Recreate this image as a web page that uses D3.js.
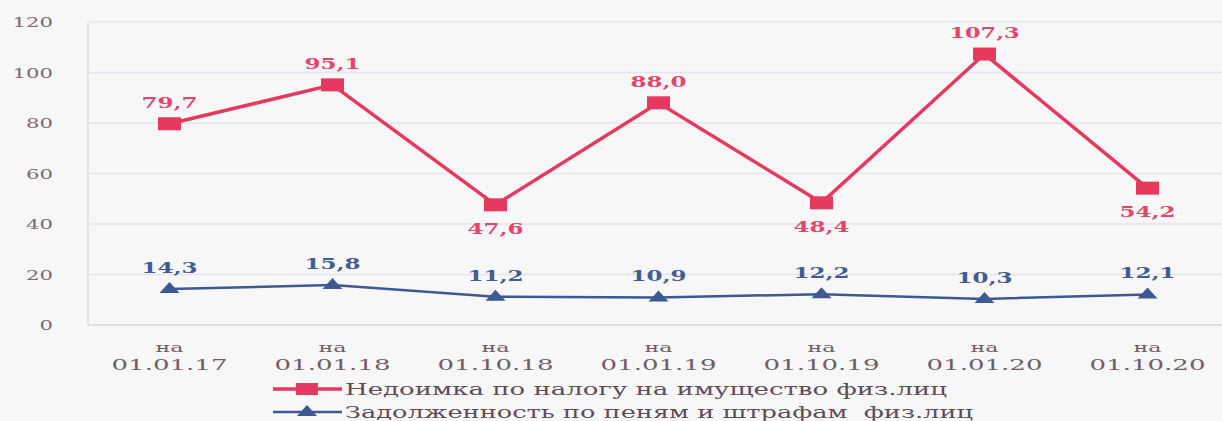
<!DOCTYPE html>
<html>
<head>
<meta charset="utf-8">
<script src="https://cdn.jsdelivr.net/npm/d3@7"></script>
<style>
  body { margin: 0; background: #f7f7f7; }
  text { font-family: "DejaVu Serif", "Liberation Serif", serif; white-space: pre; }
</style>
</head>
<body>
<div id="viz"></div>
<script>
var categories = ["01.01.17", "01.01.18", "01.10.18", "01.01.19", "01.10.19", "01.01.20", "01.10.20"];
var nedoimka = [79.7, 95.1, 47.6, 88.0, 48.4, 107.3, 54.2];
var penya = [14.3, 15.8, 11.2, 10.9, 12.2, 10.3, 12.1];
var nedoimkaPos = ["top", "top", "bottom", "top", "bottom", "top", "bottom"];
var yTicks = [0, 20, 40, 60, 80, 100, 120];
var seriesNames = ["Недоимка по налогу на имущество физ.лиц", "Задолженность по пеням и штрафам  физ.лиц"];

var width = 1222, height = 421;
var red = "#e5395f", blue = "#3d5893";

var svg = d3.select("#viz").append("svg").attr("width", width).attr("height", height);
svg.append("rect").attr("width", width).attr("height", height).attr("fill", "#f7f7f7");

var x = d3.scaleBand().domain(categories).range([88, 1229]);
var y = d3.scaleLinear().domain([0, 120]).range([325, 22]);
var cx = function(d, i) { return x(categories[i]) + x.bandwidth() / 2; };
var fmt = function(d) { return d.toFixed(1).replace(".", ","); };

// grid
svg.append("g").selectAll("line")
    .data(yTicks)
    .enter().append("line")
      .attr("x1", 88).attr("x2", width)
      .attr("y1", function(d) { return y(d); }).attr("y2", function(d) { return y(d); })
      .attr("stroke", function(d) { return d == 0 ? "#d8d4d8" : "#e6e4ec"; })
      .attr("stroke-width", 1.5);

svg.append("line")
    .attr("x1", 88).attr("x2", 88).attr("y1", y(120)).attr("y2", y(0))
    .attr("stroke", "#e2d8dc").attr("stroke-width", 1.5);

// y axis
var yAxis = svg.append("g")
    .attr("transform", "translate(53,0)")
    .call(d3.axisLeft(y).tickValues(yTicks).tickSize(0).tickPadding(0));
yAxis.select(".domain").remove();
yAxis.selectAll("text")
    .attr("fill", "#7a6b70")
    .attr("dy", "0.35em")
    .attr("textLength", function(d) { return String(d).length * 13.5; })
    .attr("lengthAdjust", "spacingAndGlyphs")
    .style("font-family", "'DejaVu Serif', serif")
    .style("font-size", "13px");

// x axis labels
var xl = svg.append("g").selectAll("g")
    .data(categories)
    .enter().append("g")
      .attr("transform", function(d) { return "translate(" + (x(d) + x.bandwidth() / 2) + ",0)"; });
xl.append("text").attr("y", 352).attr("text-anchor", "middle")
    .attr("fill", "#6e5e66").style("font-size", "13px")
    .attr("textLength", 28).attr("lengthAdjust", "spacingAndGlyphs")
    .text("на");
xl.append("text").attr("y", 370).attr("text-anchor", "middle")
    .attr("fill", "#6e5e66").style("font-size", "14px")
    .attr("textLength", 116).attr("lengthAdjust", "spacingAndGlyphs")
    .text(function(d) { return d; });

var line = d3.line().x(cx).y(function(d) { return y(d); });

// red series
svg.append("path").datum(nedoimka)
    .attr("d", line).attr("fill", "none").attr("stroke", red).attr("stroke-width", 3.5);
svg.append("g").selectAll("rect")
    .data(nedoimka)
    .enter().append("rect")
      .attr("x", function(d, i) { return cx(d, i) - 11.5; })
      .attr("y", function(d) { return y(d) - 6.5; })
      .attr("width", 23).attr("height", 13)
      .attr("fill", red);
svg.append("g").selectAll("text")
    .data(nedoimka)
    .enter().append("text")
      .attr("x", cx)
      .attr("y", function(d, i) { return nedoimkaPos[i] == "top" ? y(d) - 16 : y(d) + 29; })
      .attr("text-anchor", "middle")
      .attr("fill", "#e3456b")
      .attr("textLength", function(d) { return fmt(d).length * 14; })
      .attr("lengthAdjust", "spacingAndGlyphs")
      .style("font-size", "15px").style("font-weight", "bold")
      .text(fmt);

// blue series
svg.append("path").datum(penya)
    .attr("d", line).attr("fill", "none").attr("stroke", blue).attr("stroke-width", 2.5);
var tri = function(px, py) {
  return "M" + (px - 10) + "," + (py + 4) + " L" + px + "," + (py - 7) + " L" + (px + 10) + "," + (py + 4) + " Z";
};
svg.append("g").selectAll("path")
    .data(penya)
    .enter().append("path")
      .attr("d", function(d, i) { return tri(cx(d, i), y(d)); })
      .attr("fill", blue);
svg.append("g").selectAll("text")
    .data(penya)
    .enter().append("text")
      .attr("x", cx)
      .attr("y", function(d) { return y(d) - 16; })
      .attr("text-anchor", "middle")
      .attr("fill", "#445a92")
      .attr("textLength", function(d) { return fmt(d).length * 14; })
      .attr("lengthAdjust", "spacingAndGlyphs")
      .style("font-size", "15px").style("font-weight", "bold")
      .text(fmt);

// legend
var legendWidths = [602, 628];
var lg = svg.append("g").selectAll("g")
    .data(seriesNames)
    .enter().append("g")
      .attr("transform", function(d, i) { return "translate(0," + (389 + i * 23) + ")"; });
lg.append("line")
    .attr("x1", 273).attr("x2", 342).attr("y1", 0).attr("y2", 0)
    .attr("stroke", function(d, i) { return i == 0 ? red : blue; })
    .attr("stroke-width", function(d, i) { return i == 0 ? 3.5 : 2.5; });
lg.append("path")
    .attr("d", function(d, i) {
      return i == 0 ? "M296,-6 H318 V6 H296 Z" : tri(307, 0);
    })
    .attr("fill", function(d, i) { return i == 0 ? red : blue; });
lg.append("text")
    .attr("x", 345).attr("y", 6)
    .attr("fill", "#5e4c56")
    .attr("textLength", function(d, i) { return legendWidths[i]; })
    .attr("lengthAdjust", "spacingAndGlyphs")
    .style("font-size", "16px")
    .text(function(d) { return d; });
</script>
</body>
</html>
